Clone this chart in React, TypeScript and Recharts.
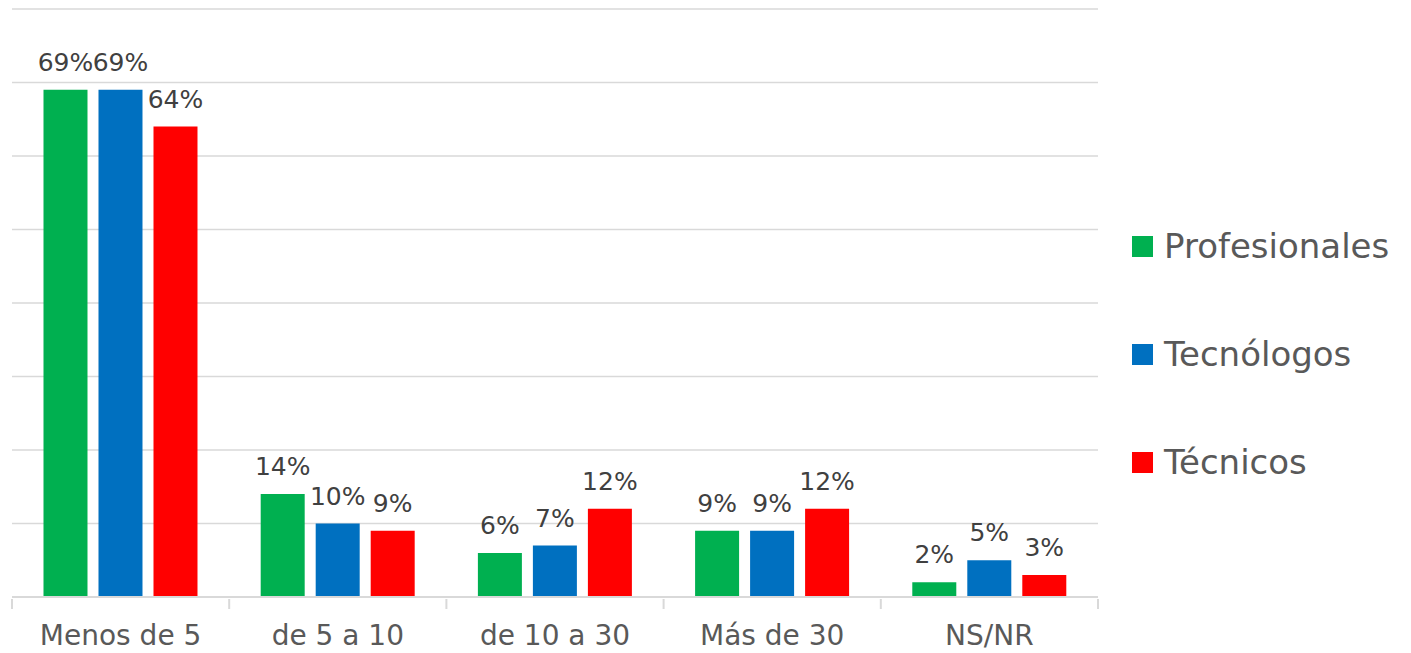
import React from 'react';
import { BarChart, Bar, XAxis, YAxis, CartesianGrid, LabelList } from 'recharts';

const categories = ['Menos de 5', 'de 5 a 10', 'de 10 a 30', 'Más de 30', 'NS/NR'];
const profesionales = [69, 14, 6, 9, 2];
const tecnologos = [69, 10, 7, 9, 5];
const tecnicos = [64, 9, 12, 12, 3];
const yTicks = [0, 10, 20, 30, 40, 50, 60, 70, 80];

const series = [
  { key: 'profesionales', name: 'Profesionales', color: '#00b050' },
  { key: 'tecnologos', name: 'Tecnólogos', color: '#0070c0' },
  { key: 'tecnicos', name: 'Técnicos', color: '#ff0000' },
];

const FONT = '"DejaVu Sans", sans-serif';
const W = 1411;
const H = 653;
const M = { top: 9, right: 313, bottom: 0, left: 12 };
const BAND = (W - M.left - M.right) / categories.length;

const data = categories.map((name, i) => ({
  name,
  profesionales: profesionales[i],
  tecnologos: tecnologos[i],
  tecnicos: tecnicos[i],
}));

const CategoryTick = ({ x, y, payload, index }: any) => {
  const left = x - BAND / 2;
  const right = x + BAND / 2;
  return (
    <g>
      <line x1={left} y1={y} x2={left} y2={y + 10} stroke="#d9d9d9" strokeWidth={2} />
      {index === categories.length - 1 && (
        <line x1={right} y1={y} x2={right} y2={y + 10} stroke="#d9d9d9" strokeWidth={2} />
      )}
      <text x={x} y={y + 46} textAnchor="middle" fontSize={28} fill="#595959" fontFamily={FONT}>
        {payload.value}
      </text>
    </g>
  );
};

const pct = (v: any) => `${v}%`;

export default function App() {
  return (
    <div style={{ position: 'absolute', left: 0, top: 0, width: W, height: H, background: '#fff' }}>
      <BarChart width={W} height={H} data={data} margin={M} barCategoryGap="14.5%" barGap={11}>
        <CartesianGrid vertical={false} stroke="#d9d9d9" strokeWidth={1.5} />
        <XAxis
          dataKey="name"
          axisLine={{ stroke: '#d9d9d9', strokeWidth: 2 }}
          tickLine={false}
          tick={<CategoryTick />}
          interval={0}
          height={56}
          tickSize={0}
        />
        <YAxis hide domain={[0, 80]} ticks={yTicks} />
        {series.map((s) => (
          <Bar key={s.key} dataKey={s.key} name={s.name} fill={s.color} isAnimationActive={false}>
            <LabelList dataKey={s.key} position="top" offset={19} formatter={pct} fontSize={25} fill="#404040" fontFamily={FONT} />
          </Bar>
        ))}
      </BarChart>
      <div style={{ position: 'absolute', left: 1132, top: 192, fontFamily: FONT }}>
        {series.map((s) => (
          <div key={s.key} style={{ display: 'flex', alignItems: 'center', height: 108, fontSize: 34, color: '#595959' }}>
            <span style={{ width: 21, height: 21, background: s.color, marginRight: 11, display: 'inline-block' }} />
            {s.name}
          </div>
        ))}
      </div>
    </div>
  );
}
